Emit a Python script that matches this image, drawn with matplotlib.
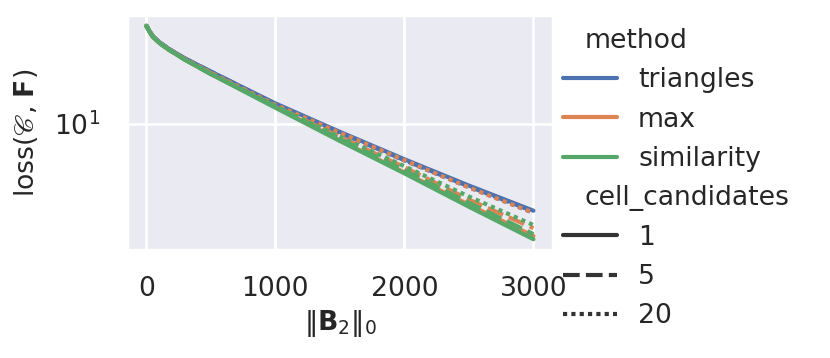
import matplotlib
matplotlib.use("Agg")
import matplotlib.pyplot as plt
from matplotlib.lines import Line2D
import seaborn as sns

# x positions (number of nonzeros in B2)
x_vals = [0, 25, 50, 100, 175, 300, 500, 1000, 1500, 2000, 2500, 3000]

# loss per method / cell_candidates
triangles_1 = [30.5, 28.6, 27.1, 25.3, 23.4, 21.0, 18.1, 12.6, 9.12, 6.68, 4.95, 3.72]
triangles_5 = [30.5, 28.6, 27.1, 25.3, 23.4, 21.0, 18.1, 12.5, 9.02, 6.61, 4.90, 3.69]
triangles_20 = [30.5, 28.6, 27.1, 25.3, 23.4, 21.0, 18.0, 12.5, 9.00, 6.58, 4.86, 3.63]
max_1 = [30.5, 28.5, 26.9, 25.1, 23.2, 20.7, 17.6, 12.1, 8.27, 5.75, 3.98, 2.79]
max_5 = [30.5, 28.6, 27.0, 25.2, 23.3, 20.8, 17.8, 12.2, 8.61, 6.10, 4.22, 3.05]
max_20 = [30.5, 28.6, 27.0, 25.2, 23.3, 20.9, 17.9, 12.4, 9.02, 6.61, 4.84, 3.63]
similarity_1 = [30.5, 28.5, 26.9, 25.1, 23.2, 20.7, 17.6, 12.0, 8.22, 5.69, 3.89, 2.69]
similarity_5 = [30.5, 28.5, 26.9, 25.1, 23.2, 20.7, 17.6, 12.2, 8.41, 5.89, 4.07, 2.85]
similarity_20 = [30.5, 28.5, 26.9, 25.1, 23.2, 20.8, 17.7, 12.2, 8.61, 6.17, 4.37, 3.16]

methods = ["triangles", "max", "similarity"]
cell_candidates = ["1", "5", "20"]
series = {
    ("triangles", "1"): triangles_1, ("triangles", "5"): triangles_5, ("triangles", "20"): triangles_20,
    ("max", "1"): max_1, ("max", "5"): max_5, ("max", "20"): max_20,
    ("similarity", "1"): similarity_1, ("similarity", "5"): similarity_5, ("similarity", "20"): similarity_20,
}
x_ticks = [0, 1000, 2000, 3000]

sns.set_theme(style="darkgrid")
fs = 9.6
plt.rcParams["font.size"] = fs
plt.rcParams["axes.labelsize"] = fs
plt.rcParams["xtick.labelsize"] = fs
plt.rcParams["ytick.labelsize"] = fs
plt.rcParams["legend.fontsize"] = fs

colors = sns.color_palette("deep", 3)
dashes = {"1": "", "5": (4, 1.5), "20": (1, 1)}

fig = plt.figure(figsize=(4.15, 1.79), dpi=200)
ax = fig.add_axes([0.153, 0.302, 0.513, 0.656])

for i, m in enumerate(methods):
    for c in cell_candidates:
        line, = ax.plot(x_vals, series[(m, c)], color=colors[i], lw=1.5)
        if dashes[c]:
            line.set_dashes(dashes[c])

ax.set_yscale("log")
ax.set_xticks(x_ticks)
ax.set_xlabel(r"$\|\mathbf{B}_2\|_0$", labelpad=2)
ax.set_ylabel(r"loss($\mathscr{C}$, $\mathbf{F}$)", labelpad=5)

# legend in seaborn style: subtitles as invisible-handle entries
handles, labels = [], []
handles.append(Line2D([], [], visible=False)); labels.append("method")
for i, m in enumerate(methods):
    handles.append(Line2D([], [], color=colors[i], lw=1.5)); labels.append(m)
handles.append(Line2D([], [], visible=False)); labels.append("cell_candidates")
for c in cell_candidates:
    h = Line2D([], [], color=".2", lw=1.5)
    if dashes[c]:
        h.set_dashes(dashes[c])
    handles.append(h); labels.append(c)

leg = ax.legend(handles, labels, loc="upper left", bbox_to_anchor=(1, 0.99),
                borderaxespad=0, frameon=False, labelspacing=0.5)
for col in leg._legend_handle_box.get_children():
    for hpack in col.get_children():
        draw_area, text_area = hpack.get_children()
        if not all(a.get_visible() for a in draw_area.get_children()):
            draw_area.set_width(0)

fig.savefig("out.png", dpi=200)
